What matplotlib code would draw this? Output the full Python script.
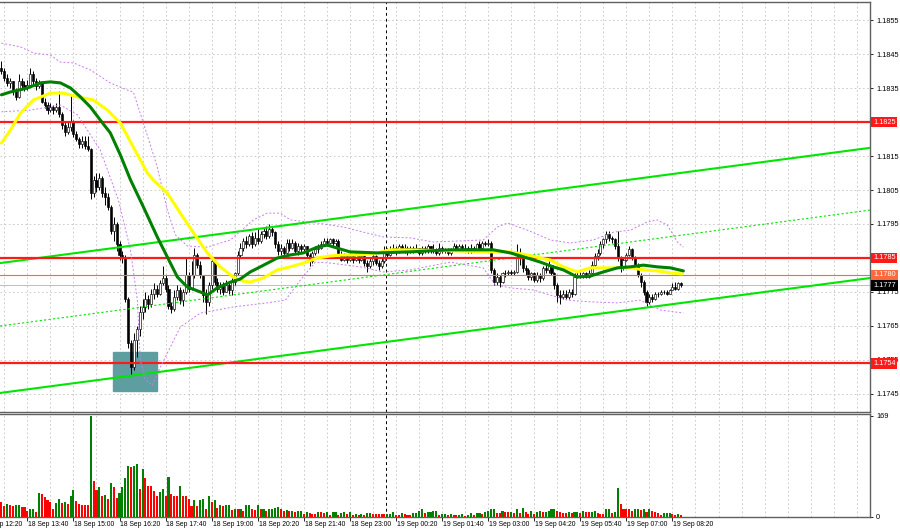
import numpy as np
import matplotlib
matplotlib.use('Agg')
import matplotlib.pyplot as plt
from matplotlib.patches import Rectangle
import matplotlib.transforms as mtransforms

plt.rcParams['font.family'] = ['Liberation Sans', 'DejaVu Sans']

# ---------------- data (prices in pips above BASE) ----------------
BASE = 1.17
PIP = 0.0001

open_first = 141
close_p = [
    140,138,136.5,137,134,132.5,137,136,135,136,
    139,137,135.5,136.5,131,130,128.5,129.5,128.5,129.5,
    127.5,124,122,123.5,125,121.5,120,118.5,119.5,118,
    117,104,108,106,108.5,104,103,100,93,95,
    89,86,85,73,60,53,61,64,69,70.5,
    73,71.5,74.5,76,74.5,77.5,79,76,71,70,
    73.5,75.5,72.5,75,80,76,80,86,83,80,
    74,72,77,84,78,76,77,75,77,75.5,
    78,80.5,86,88,90,89,91.5,89,91,90,
    92,93,91.5,93.5,92.5,89,87,88,86.5,89.5,
    88,89.5,87,88.5,87.5,88.5,86,84,86.5,87.5,
    88,89,90,89.5,90.5,89.5,90,86,84.5,85.5,
    84.5,85.5,84.5,86,84.5,85.5,83.5,82.5,84,85.5,
    83.5,82.5,84,87,86,87.5,88,87,88.5,87.5,
    88,87,88,87.5,88,86.5,88,87,88.5,87,
    87.5,86.5,88,87,87.5,86.5,87.5,88.5,87.5,88.5,
    87.5,88,87,88,87.5,89,88,89.5,89,89.5,
    81.5,78,79.5,78,80.5,80.5,81,80.5,81,85,
    86,82,81.5,79.5,80.5,78.5,80,79,82,81.5,
    83,80.5,77,74,73.5,74.5,73.5,75,74.5,79.5,
    80,79.5,80.5,79.5,80.5,83,85.5,86.5,89,90.5,
    92,91,90.5,88.5,85,82,84.5,86,87.5,85,
    83,80,78,75,72,73.5,73,74.5,74.5,75,
    75,74.5,75.5,76.5,76,77.5,77]
high_p = [
    143,141,139,138,137,135,139,138,137,137.5,
    141,140,138,137.5,137,132,131,130.5,130,130.5,
    134,128,125,125,133,125.5,122.5,120.5,121,121,
    121,117.5,109,110,110,109,106,104,100.5,97,
    95.5,90,87,86,73.5,61,63,65,71,73,
    75,74,76,77.5,77,78.5,82.5,80,77,72,
    75.5,77,76.5,76,85,81,84,88,86.5,84,
    80,76,78,85,84.5,79,78,78,78.5,78,
    79,81,87,89.5,91,91.5,92,92.5,92.5,93.5,
    93,94,94.5,95,94.5,93,90,89,88.5,90.5,
    90.5,90.5,90,89.5,89,89,88.5,86.5,87,88.5,
    89,90,91,91,91,91,90.5,90.5,87,86.5,
    86,86.5,86,87,86.5,87,86,84.5,85,86,
    86,84.5,85,88.5,88,88.5,89,88.5,89,89,
    89,88.5,88.5,88.5,89,88,88.5,88.5,89,88.5,
    89,88,89.5,88.5,88,88,88,89.5,89,89,
    89,89,88.5,89,88.5,89.5,90,90,90,90.5,
    90,82,80.5,80,81,81.5,81.5,81.5,81.5,89,
    88,86.5,83,82,81,81,81,80.5,82.5,83.5,
    84,83,81,77.5,75.5,75.5,75.5,76,76,80.5,
    81,81,81,81,81.5,84,86.5,87.5,90,91,
    93,93,91.5,91,93,85.5,85,86.5,88.5,88,
    85.5,83.5,80.5,78.5,75.5,74.5,74.5,75,75,75.5,
    75.5,75.5,76,77.5,78,78,78]
low_p = [
    139,137,135.5,135,133,131.5,132,134.5,134,134.5,
    135.5,136,134.5,135,130.5,129,127.5,128,127.5,128,
    126.5,123,121,121.5,122.5,120.5,119.5,117.5,117.5,117,
    116.5,102.5,103,104.5,105,103,100.5,99,92,90,
    87,84.5,83.5,72,58.5,50.5,52,56,62,67,
    69,70,70.5,73,73.5,74,77,75,70,68.8,
    69.5,72.5,71.5,71,74.5,75,75.5,79,82,79,
    72,68.5,71,76,77,75,74.5,74,75,74.5,
    74,77,80,85,87,88,88.5,88,88.5,89,
    89.5,91,90.5,91,91.5,88,86,86,85.5,86,
    87,87.5,86.5,86,86.5,86.5,85,82.5,83.5,86,
    86.5,87.5,88.5,88.5,89,88.5,88.5,85.5,84,84,
    83.5,84,83.5,84,83.5,84,82.5,81,82,83,
    83,81.5,82,83.5,85,85.5,86.5,86,86.5,87,
    86.5,86,86.5,86.5,87,86,86,86.5,86.5,86.5,
    86.5,86,86,86.5,86.5,86,86,87,87,87,
    87,87,86.5,86.5,87,87,87.5,87.5,88.5,88.5,
    80.5,77,77,76.5,77.5,79.5,80,80,80,80.5,
    83,81,80,78.5,78.5,78,78,78,78.5,80.5,
    80.5,80,76,72,71.5,73,73,73,73.5,74,
    79,79,79,79,79,80,82.5,84.5,86,88,
    89.5,90,89.5,87.5,84,81,81.5,84,85.5,84.5,
    82.5,79.5,76.5,74,71,71.5,72,72.5,73.5,74,
    74.5,74,74.5,75.5,75.5,75.5,76.5]

volume = [
    24,17,21,19,17,19,20,16,16,9,
    12,12,7,40,38,33,28,25,13,23,
    29,23,24,21,34,45,26,21,19,19,
    19,169,59,45,50,34,36,30,57,49,
    31,40,50,64,85,84,85,88,47,79,
    65,51,51,43,34,42,47,34,67,38,
    35,35,51,35,35,29,18,28,17,28,
    30,13,34,24,28,15,20,17,20,20,
    11,13,12,13,10,19,19,12,11,19,
    12,13,9,12,13,15,16,13,10,11,
    9,10,8,9,10,4,7,6,5,4,
    8,7,6,7,3,7,7,3,6,8,
    4,8,3,5,3,5,3,6,6,5,
    5,5,5,4,5,5,8,2,2,6,
    5,3,3,6,6,10,13,6,7,7,
    9,10,3,5,5,3,
    4,2,2,3,5,1,3,6,3,6,
    6,4,7,10,12,12,6,6,9,7,
    7,8,6,12,6,14,8,4,9,5,
    8,10,7,8,9,12,12,9,7,6,
    6,7,6,7,7,6,9,7,7,8,
    10,6,5,5,12,12,6,7,48,21,
    13,12,12,10,12,13,11,12,7,12,
    10,8,6,3,6,6,6,5,3,5,
    2]

# moving averages (bar position, pips)
green_ma_x = [0,3,9,13.5,17,20.5,24,27.4,30.9,34.3,37.8,41.3,44.8,49.3,54.1,57.6,61.1,64.5,69.1,71.5,
              74.9,79.5,82.9,86.4,89.9,95.8,100.3,104.9,109.7,113.2,116.6,121.1,130.5,142,155.9,170.8,
              176.7,182.6,187.1,191.6,195.1,200,204.5,209,213.9,218.4,222.9,227.7,232.3,236.8]
green_ma_y = [133,133.8,135,136.5,136.8,136.5,135,132.4,129.4,125.6,121.8,115.3,108,100,91.2,85.3,79.4,76.5,75,74.1,
              76.2,77.9,78.8,80.9,82.4,85,85.9,86.5,88.2,88.8,87.9,86.8,86.5,86.8,87.4,87.4,
              86.5,85,83.8,82.4,81.5,79.4,79.7,80.9,82.1,82.4,82.9,82.4,82.1,81.2]
yellow_ma_x = [0,3.1,6.6,11.1,17,21.5,26.4,31.9,36.8,41.3,45.8,50.7,52.8,57.6,62.1,66.7,71.5,76,80.5,84,
               86.4,90.9,95.8,100.3,104.9,109.7,114.2,118.7,124.7,130.5,135,142,170.8,176.7,182.6,187.1,
               190.6,195.1,200,204.5,213.9,218.4,222.9,227.7,232.3,236.4]
yellow_ma_y = [118.8,122.6,127.6,131.5,133.5,133.5,132.4,131.5,128.5,124.7,117.6,110,107.9,104.1,98.2,92.4,86.5,82.4,79.4,78.2,
               77.9,79.1,81.5,82.4,83.5,85,85.6,85.9,85.9,86.5,87.4,87.4,86.8,86.8,85.9,85,
               84.4,82.4,80.9,82.1,82.1,82.1,81.5,81.2,80.6,80.3]
# envelope bands
upper_band_x = [0,6.6,11.1,17,20.5,25,30.9,37.8,43.7,45.8,49.3,54.1,57.6,60.4,64.6,71.5,79.5,87.5,92.3,96.8,
                100.3,109.7,118.7,125.7,132.6,142,150,167.3,172.2,175.7,182.6,190.6,197.5,205.5,212.5,218.4,
                224.3,227.7,231.2,234.7,236.8]
upper_band_y = [148.2,147.1,145.3,144.7,142.6,142.4,140.3,136.5,134.4,133.8,124.7,111.8,99.1,91.8,88.5,88.2,90.3,96.2,98.2,98.2,
                96.2,95.3,94.1,92.6,91.2,90.9,89.7,90.3,94.1,95.3,93.2,90.3,89.4,90.3,92.6,93.2,
                95.6,96.2,94.7,89.7,88.2]
lower_band_x = [0,10,20.5,26.4,34.3,40.6,44.8,47.2,48.2,50,52.4,55.2,62.1,69.1,80.5,92.3,98.6,103.8,109,114.2,
                124.6,132.6,142,155.9,167.3,171.5,176.7,184.7,196.5,204.5,213.9,221.8,228.8,236.8]
lower_band_y = [128,128.5,130,127.1,116.8,102.1,87.4,72.6,55,49.1,47.6,52.9,64.7,68.8,70.6,71.8,72.6,78.5,83.8,83.5,
                82.4,80.9,81.5,83.8,82.1,77.1,76.2,75.6,72.6,72.1,71.8,72.6,69.7,68.8]

# drawn objects
red_levels = [1.1825, 1.1785, 1.1754]
orange_level = 1.1780
bid_price = 1.1777
channel_x = [-0.5, 301.6]
channel_upper = [83.5, 117.4]
channel_lower = [45.3, 79.1]
channel_mid = [65.0, 99.1]
zone_x = [38.9, 54.1]
zone_y = [45.9, 57.35]
separator_bar = 133.5

ytick_values = [1.1745, 1.1755, 1.1765, 1.1775, 1.1785, 1.1795, 1.1805, 1.1815, 1.1825, 1.1835, 1.1845, 1.1855]
hidden_tick_labels = [1.1785, 1.1825]   # fully covered by level boxes in the reference
time_labels = ["18 Sep 12:20", "18 Sep 13:40", "18 Sep 15:00", "18 Sep 16:20", "18 Sep 17:40",
               "18 Sep 19:00", "18 Sep 20:20", "18 Sep 21:40", "18 Sep 23:00", "19 Sep 00:20",
               "19 Sep 01:40", "19 Sep 03:00", "19 Sep 04:20", "19 Sep 05:40", "19 Sep 07:00",
               "19 Sep 08:20"]
time_label_bars = [-7, 9, 25, 41, 57, 73, 89, 105, 121, 137, 153, 169, 185, 201, 217, 233]

# ---------------- helpers ----------------
def px(p):
    return BASE + np.asarray(p, dtype=float) * PIP

FS = 5.3
FS_TIME = 4.9
W, H = 900, 532
fig = plt.figure(figsize=(W / 100, H / 100), dpi=100)
fig.patch.set_facecolor('white')
ax = fig.add_axes([0, 1 - 412 / H, 870 / W, 410 / H])
axv = fig.add_axes([0, 1 - 517 / H, 870 / W, 103 / H])

XMIN, XMAX = -0.5, 301.6
ax.set_xlim(XMIN, XMAX)
ax.set_ylim(px(39.7), px(160.3))
axv.set_xlim(XMIN, XMAX)
axv.set_ylim(-0.6, 172)

GRID_C = '#c4c4c4'
grid_ls = (0, (2, 3))
grid_bars = np.arange(1, 302, 8)
for g in grid_bars:
    ax.axvline(g, color=GRID_C, lw=0.6, ls=grid_ls, zorder=0.5)
    axv.axvline(g, color=GRID_C, lw=0.6, ls=grid_ls, zorder=0.5)
for yv in ytick_values:
    ax.axhline(yv, color=GRID_C, lw=0.6, ls=grid_ls, zorder=0.5)

# period separator
for a in (ax, axv):
    a.axvline(separator_bar, color='black', lw=0.7, ls=(0, (3, 3)), zorder=1)

# zone rectangle
ax.add_patch(Rectangle((zone_x[0], px(zone_y[0])), zone_x[1] - zone_x[0],
                       (zone_y[1] - zone_y[0]) * PIP, facecolor='#5f9ea0',
                       edgecolor='#5f9ea0', zorder=1.5))

# candles
n = len(close_p)
idx = np.arange(n)
c = np.array(close_p, float)
o = np.concatenate([[open_first], c[:-1]])
h = np.maximum(np.array(high_p, float), np.maximum(o, c))
l = np.minimum(np.array(low_p, float), np.minimum(o, c))
ax.vlines(idx, px(l), px(h), color='black', lw=0.7, zorder=4)
bull = c >= o
bottoms = np.minimum(o, c)
heights = np.maximum(np.abs(c - o), 0.05)
ax.bar(idx, heights * PIP, bottom=px(bottoms), width=0.72,
       color=np.where(bull, 'white', 'black'), edgecolor='black', lw=0.45, zorder=5)

# channel lines
ax.plot(channel_x, px(channel_upper), color='#00e600', lw=1.5, zorder=6)
ax.plot(channel_x, px(channel_lower), color='#00e600', lw=1.5, zorder=6)
ax.plot(channel_x, px(channel_mid), color='#00e600', lw=0.8, ls=(0, (2, 2)), zorder=6)

# horizontal levels
for lv in red_levels:
    ax.axhline(lv, color='#ff1a1a', lw=1.6, zorder=6)
ax.axhline(orange_level, color='#ff6a3d', lw=0.8, zorder=6)
ax.axhline(bid_price, color='#bdbdbd', lw=0.7, zorder=2)

# bands and moving averages
ax.plot(upper_band_x, px(upper_band_y), color='#c77dea', lw=0.7, ls=(0, (2, 2)), zorder=6.5)
ax.plot(lower_band_x, px(lower_band_y), color='#c77dea', lw=0.7, ls=(0, (2, 2)), zorder=6.5)
ax.plot(yellow_ma_x, px(yellow_ma_y), color='#ffff00', lw=2.2, zorder=7, solid_capstyle='round')
ax.plot(green_ma_x, px(green_ma_y), color='#008000', lw=2.2, zorder=7.5, solid_capstyle='round')

# axes styling
for a in (ax, axv):
    a.spines['left'].set_visible(False)
    for s in ('top', 'right', 'bottom'):
        a.spines[s].set_color('#606060')
        a.spines[s].set_linewidth(1.0)
ax.yaxis.tick_right()
ax.set_yticks(ytick_values)
ax.set_yticklabels(["" if any(abs(v - hv) < 1e-7 for hv in hidden_tick_labels) else f"{v:.4f}"
                    for v in ytick_values])
ax.tick_params(axis='y', right=True, left=False, length=2, width=0.6, pad=2.5,
               labelsize=FS, colors='black')
ax.set_xticks([])

axv.yaxis.tick_right()
axv.set_yticks([0, 169])
axv.set_yticklabels(['0', '169'])
axv.tick_params(axis='y', right=True, left=False, length=2, width=0.6, pad=2.5, labelsize=FS)
vis_ticks = [b for b in time_label_bars if XMIN <= b <= XMAX]
axv.set_xticks(vis_ticks)
axv.tick_params(axis='x', length=3, width=0.6, labelbottom=False, direction='out')

# volume bars (colour: rise vs previous bar green, fall red)
vol = np.array(volume, float)
cols = []
prev_col = '#ff0000'
for k in range(len(vol)):
    if k == 0:
        col = '#ff0000'
    elif vol[k] > vol[k - 1]:
        col = '#008000'
    elif vol[k] < vol[k - 1]:
        col = '#ff0000'
    else:
        col = prev_col
    cols.append(col)
    prev_col = col
axv.bar(np.arange(len(vol)), vol, width=0.72, color=cols, zorder=3)

# time labels
tr = mtransforms.blended_transform_factory(axv.transData, axv.transAxes)
for b, lab in zip(time_label_bars, time_labels):
    axv.text(b + 0.3, -0.075, lab, transform=tr, ha='left', va='center',
             fontsize=FS_TIME, color='black', clip_on=False)

# right-hand price boxes
ytr = ax.get_yaxis_transform()
def price_box(val, fc, tc='white'):
    ax.text(1.0035, val, f"{val:.4f}", transform=ytr, ha='left', va='center',
            fontsize=FS, color=tc, zorder=10, clip_on=False,
            bbox=dict(boxstyle='square,pad=0.25', fc=fc, ec=fc, lw=0))

for lv in red_levels:
    price_box(lv, '#ff1a1a')
price_box(orange_level, '#ff6a3d')
price_box(bid_price, 'black')

fig.savefig('out.png', dpi=100, facecolor='white')
